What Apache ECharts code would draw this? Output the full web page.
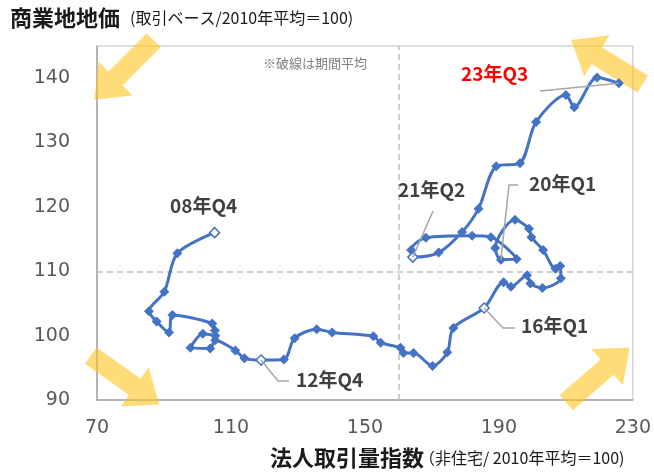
<!DOCTYPE html>
<html><head><meta charset="utf-8">
<script src="https://cdn.jsdelivr.net/npm/echarts@6/dist/echarts.min.js"></script>
<style>html,body{margin:0;padding:0;background:#fff}#c{width:654px;height:472px}</style>
</head><body><div id="c"></div>
<script>
// 法人取引量指数 (x) and 商業地地価 (y), in time order from 08年Q4 to 23年Q3
const volumeIndex = [105.1, 94.0, 90.1, 85.5, 87.8, 91.5, 92.5, 104.4, 105.2, 105.3, 101.6, 97.9, 103.8, 105.3, 111.3, 114.0,
  119.0, 125.8, 129.0, 135.6, 140.2, 152.5, 154.7, 160.6, 161.5, 164.5, 170.2, 174.6, 176.4,
  185.6, 191.4, 193.6, 198.4, 199.4, 203.0, 208.5, 208.3, 206.9, 203.2, 199.7, 199.0, 194.8, 188.9, 190.6, 195.3, 187.6, 182.0, 168.2, 163.8,
  164.3, 172.0, 179.0, 183.9, 189.2, 196.3, 201.1, 210.0, 212.5, 219.3, 225.8];
const landPrice = [116.0, 112.8, 106.8, 103.8, 102.2, 100.5, 103.2, 101.9, 100.8, 100.0, 100.3, 98.1, 98.0, 99.3, 97.7, 96.5,
  96.2, 96.3, 99.6, 101.0, 100.5, 99.9, 98.9, 98.1, 97.3, 97.3, 95.3, 97.4, 101.2,
  104.3, 108.3, 107.6, 109.4, 108.1, 107.4, 108.9, 110.8, 110.4, 113.3, 115.3, 116.6, 118.0, 113.6, 111.8, 111.9, 115.3, 115.5, 115.2, 113.3,
  112.2, 112.9, 116.1, 119.7, 126.3, 126.8, 133.2, 137.4, 135.5, 140.1, 139.2];
// callouts: label text and index of the point it marks
const calloutLabels = ['08年Q4', '12年Q4', '16年Q1', '20年Q1', '21年Q2', '23年Q3'];
const calloutIndex = [0, 16, 29, 43, 49, 59];
const openMarkerIndex = [0, 16, 29, 49];
const xTicks = [70, 110, 150, 190, 230];
const yTicks = [90, 100, 110, 120, 130, 140];
const periodAvgVolume = 160;
const periodAvgPrice = 110;

const BLUE = '#4472C4';
const JP = '"Noto Sans CJK JP", "Noto Sans", sans-serif';
const NUM = '"DejaVu Sans", sans-serif';

const chart = echarts.init(document.getElementById('c'), null, {renderer: 'canvas'});
const data = volumeIndex.map((x, i) => {
  const d = {value: [x, landPrice[i]]};
  if (openMarkerIndex.includes(i)) d.itemStyle = {color: '#fff', borderColor: BLUE, borderWidth: 1.5};
  return d;
});

chart.setOption({
  animation: false,
  grid: {left: 97, right: 14, top: 46, bottom: 72, show: true, borderColor: '#BFBFBF', borderWidth: 1},
  xAxis: {
    type: 'value', min: xTicks[0], max: xTicks[xTicks.length - 1], interval: xTicks[1] - xTicks[0],
    splitLine: {show: false}, axisTick: {show: false},
    axisLine: {show: true, lineStyle: {color: '#A6A6A6', width: 1.5}},
    axisLabel: {color: '#595959', fontSize: 19, fontFamily: NUM, margin: 19}
  },
  yAxis: {
    type: 'value', min: yTicks[0], max: 145, interval: yTicks[1] - yTicks[0],
    splitLine: {show: false}, axisTick: {show: false},
    axisLine: {show: true, lineStyle: {color: '#A6A6A6', width: 1.5}},
    axisLabel: {color: '#595959', fontSize: 19, fontFamily: NUM, margin: 27, showMaxLabel: false}
  },
  series: [{
    type: 'line', data: data, smooth: 0.3,
    symbol: 'diamond', symbolSize: 10,
    lineStyle: {color: BLUE, width: 3},
    itemStyle: {color: BLUE},
    z: 5,
    markLine: {
      silent: true, symbol: 'none', label: {show: false},
      lineStyle: {color: '#BFBFBF', type: [6, 4], width: 1.5},
      data: [{xAxis: periodAvgVolume}, {yAxis: periodAvgPrice}]
    }
  }]
});

function pt(i) { return chart.convertToPixel({gridIndex: 0}, [volumeIndex[i], landPrice[i]]); }

function arrow(cx, cy, dx, dy, len, sw, hw, hl) {
  const n = Math.hypot(dx, dy); const ux = dx / n, uy = dy / n; const px = -uy, py = ux;
  const loc = [[-len / 2, -sw / 2], [len / 2 - hl, -sw / 2], [len / 2 - hl, -hw], [len / 2, 0], [len / 2 - hl, hw], [len / 2 - hl, sw / 2], [-len / 2, sw / 2]];
  return {
    type: 'polygon', z: 1, silent: true,
    shape: {points: loc.map(([a, b]) => [cx + a * ux + b * px, cy + a * uy + b * py])},
    style: {fill: 'rgba(255,196,30,0.6)'}
  };
}

const lead = (pts) => ({type: 'polyline', z: 9, silent: true, shape: {points: pts}, style: {stroke: '#A6A6A6', lineWidth: 1.5, fill: null}});
const callout = (i, x, y, color) => ({type: 'text', left: x, top: y, z: 10, style: {text: calloutLabels[i], font: 'bold 19px ' + JP, fill: color || '#404040'}});

const p12 = pt(calloutIndex[1]), p16 = pt(calloutIndex[2]), p20 = pt(calloutIndex[3]), p21 = pt(calloutIndex[4]), p23 = pt(calloutIndex[5]);

chart.setOption({
  graphic: [
    arrow(124, 70, -1, 1, 84, 20, 24, 30),
    arrow(607, 62, -70, -43, 84, 20, 24, 30),
    arrow(598, 375, 62, -54, 84, 20, 24, 30),
    arrow(125, 380, 70, 50, 84, 20, 24, 30),
    {type: 'text', left: 10, top: 7, style: {text: '商業地地価', font: 'bold 22px ' + JP, fill: '#1a1a1a'}},
    {type: 'text', left: 130, top: 10, style: {text: '(取引ベース/2010年平均＝100)', font: '16px ' + JP, fill: '#1a1a1a'}},
    {type: 'text', left: 270, top: 447, style: {text: '法人取引量指数', font: 'bold 22px ' + JP, fill: '#1a1a1a'}},
    {type: 'text', left: 419, top: 450, style: {text: '（非住宅/ 2010年平均＝100)', font: '16px ' + JP, fill: '#1a1a1a'}},
    {type: 'text', left: 263, top: 57, style: {text: '※破線は期間平均', font: '13px ' + JP, fill: '#808080'}},
    callout(0, 170, 196),
    lead([p12, [278, 381], [289, 381]]),
    callout(1, 296, 370),
    lead([p16, [503, 328], [515, 328]]),
    callout(2, 521, 316),
    lead([p20, [509, 185], [518, 185]]),
    callout(3, 529, 174),
    lead([p21, [433, 211]]),
    callout(4, 398, 180),
    lead([[540, 91], p23]),
    callout(5, 461, 64, '#FF0000')
  ]
});
</script></body></html>
